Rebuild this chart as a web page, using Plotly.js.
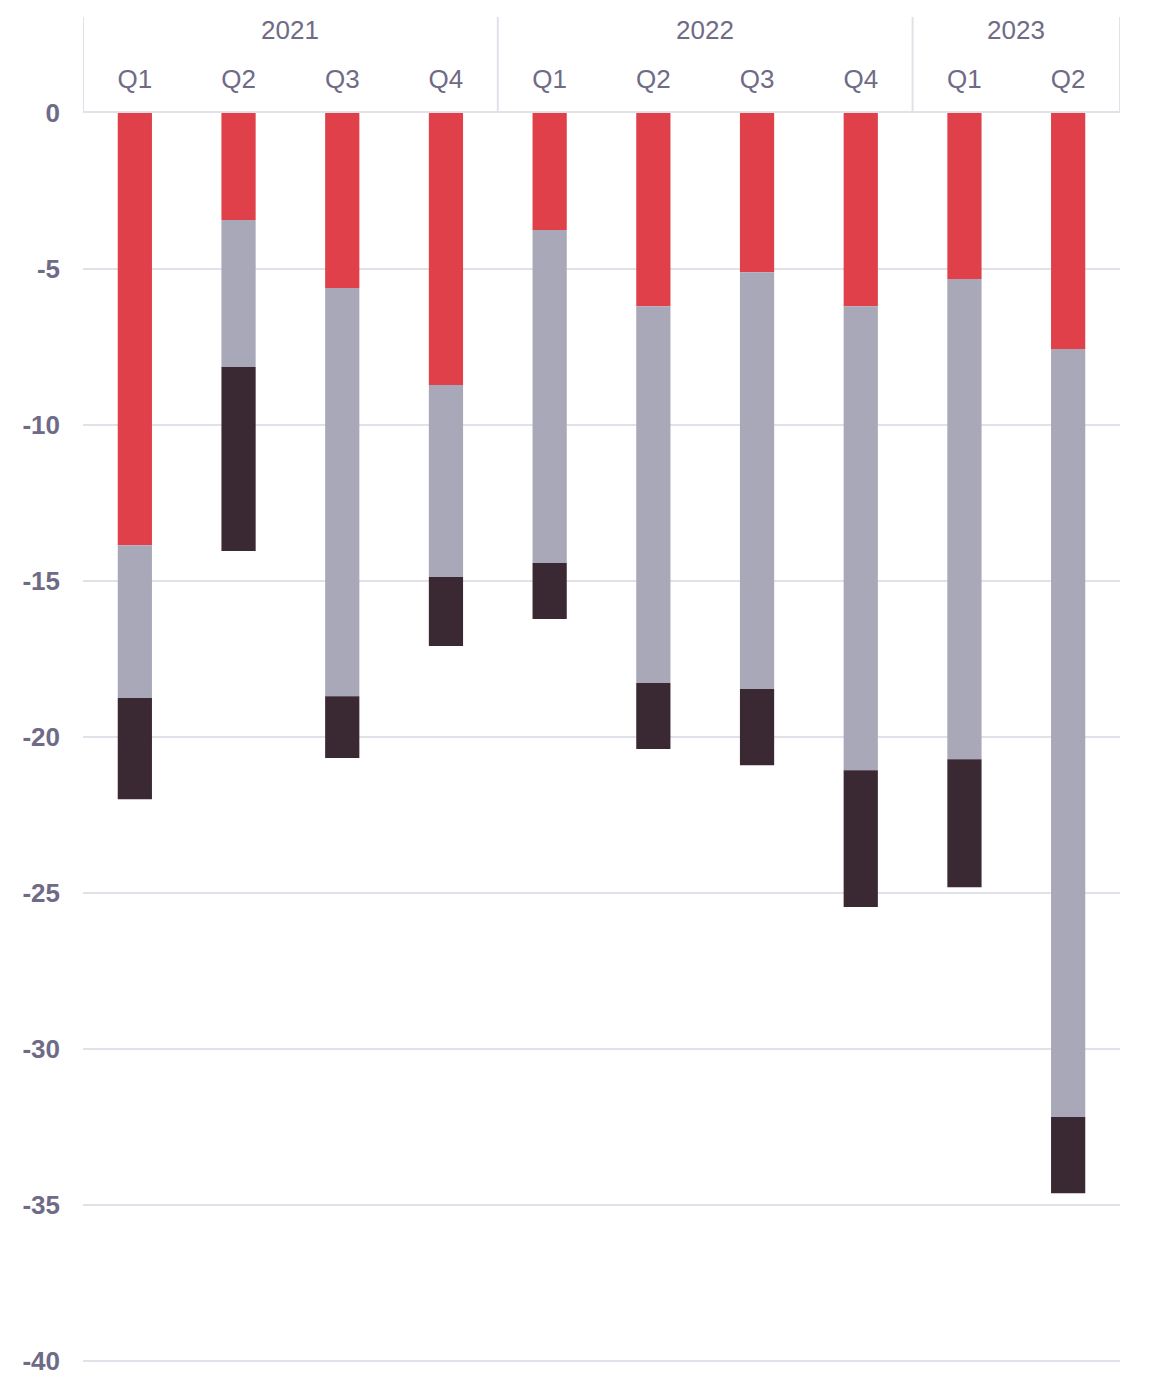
<!DOCTYPE html>
<html>
<head>
<meta charset="utf-8">
<script src="https://cdn.plot.ly/plotly-3.0.1.min.js"></script>
<style>
  html, body { margin: 0; padding: 0; background: #fff; }
  #chart { width: 1152px; height: 1392px; }
</style>
</head>
<body>
<div id="chart"></div>
<script>
// --- Data ---
const years = ["2021", "2021", "2021", "2021", "2022", "2022", "2022", "2022", "2023", "2023"];
const quarters = ["Q1", "Q2", "Q3", "Q4", "Q1", "Q2", "Q3", "Q4", "Q1", "Q2"];
const redPart = [-13.85, -3.43, -5.61, -8.72, -3.75, -6.19, -5.10, -6.19, -5.32, -7.56];
const greyPart = [-4.90, -4.71, -13.08, -6.15, -10.67, -12.08, -13.36, -14.87, -15.39, -24.62];
const darkPart = [-3.24, -5.90, -1.98, -2.21, -1.80, -2.11, -2.44, -4.39, -4.10, -2.44];
const yTicks = [0, -5, -10, -15, -20, -25, -30, -35, -40];

// --- Style ---
const textColor = "#6f6b86";
const gridColor = "#e2e1ea";
const fontFamily = "'Liberation Sans', Arial, sans-serif";

// one slot per quarter, grouped by year
const slots = quarters.map((_, i) => i);

// --- Year groups (header labels + dividers) ---
const groups = [];
years.forEach((yr, i) => {
  const last = groups[groups.length - 1];
  if (last && last.year === yr) last.end = i;
  else groups.push({ year: yr, start: i, end: i });
});

const headerTop = 1.0768;   // paper units above the plot
const yearLabelY = 1.0664;

const annotations = groups.map((g) => ({
  xref: "x",
  yref: "paper",
  x: (g.start + g.end) / 2,
  y: yearLabelY,
  text: g.year,
  showarrow: false,
  yanchor: "middle",
  font: { family: fontFamily, size: 26, color: textColor },
}));

const dividerXs = [groups[0].start - 0.5].concat(groups.map((g) => g.end + 0.5));
const shapes = dividerXs.map((dx) => ({
  type: "line",
  xref: "x",
  yref: "paper",
  x0: dx,
  x1: dx,
  y0: 1,
  y1: headerTop,
  line: { color: gridColor, width: 2 },
}));

function barTrace(values, color) {
  return {
    type: "bar",
    x: slots,
    y: values,
    width: 0.33,
    marker: { color: color, line: { width: 0 } },
    hoverinfo: "y",
  };
}

const traces = [
  barTrace(redPart, "#df4049"),
  barTrace(greyPart, "#a8a8b9"),
  barTrace(darkPart, "#3a2932"),
];

const layout = {
  width: 1152,
  height: 1392,
  margin: { l: 83, r: 32, t: 113, b: 29 },
  paper_bgcolor: "#fff",
  plot_bgcolor: "#fff",
  barmode: "relative",
  showlegend: false,
  font: { family: fontFamily, size: 26, color: textColor },
  annotations: annotations,
  shapes: shapes,
  xaxis: {
    side: "top",
    range: [-0.5, slots.length - 0.5],
    tickvals: slots,
    ticktext: quarters,
    showgrid: false,
    zeroline: false,
    showline: true,
    linecolor: gridColor,
    linewidth: 2,
    ticks: "",
    ticklabelstandoff: 13,
    tickfont: { family: fontFamily, size: 26, color: textColor },
  },
  yaxis: {
    range: [-40.06, 0],
    tickvals: yTicks,
    ticktext: yTicks.map(String),
    showgrid: true,
    gridcolor: gridColor,
    gridwidth: 2,
    zeroline: false,
    showline: false,
    ticklabelstandoff: 22,
    tickfont: { family: fontFamily, size: 26, color: textColor, weight: "bold" },
  },
};

Plotly.newPlot("chart", traces, layout, { displayModeBar: false, staticPlot: true });
</script>
</body>
</html>
